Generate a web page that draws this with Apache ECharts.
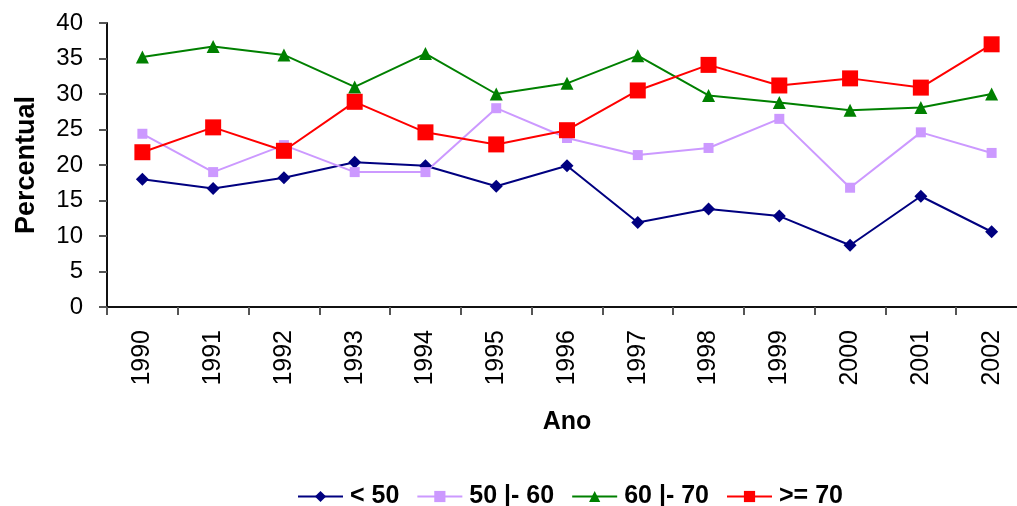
<!DOCTYPE html>
<html>
<head>
<meta charset="utf-8">
<script src="https://cdn.jsdelivr.net/npm/echarts@6/dist/echarts.min.js"></script>
<style>
html,body{margin:0;padding:0;background:#fff;overflow:hidden;width:1017px;height:506px;}
#chart{width:1032px;height:506px;}
</style>
</head>
<body>
<div id="chart"></div>
<script>
const years = ['1990','1991','1992','1993','1994','1995','1996','1997','1998','1999','2000','2001','2002'];
const seriesNames = ['< 50', '50 |- 60', '60 |- 70', '>= 70'];
const lt50 =    [18.0, 16.7, 18.2, 20.4, 19.9, 17.0, 19.9, 11.9, 13.8, 12.8, 8.7, 15.6, 10.6];
const s50_60 =  [24.4, 19.0, 22.8, 19.0, 19.0, 28.0, 23.8, 21.4, 22.4, 26.5, 16.8, 24.6, 21.7];
const s60_70 =  [35.2, 36.7, 35.5, 31.0, 35.7, 30.0, 31.5, 35.4, 29.8, 28.8, 27.7, 28.1, 30.0];
const ge70 =    [21.8, 25.3, 22.0, 28.9, 24.6, 22.9, 24.9, 30.5, 34.1, 31.2, 32.2, 30.9, 37.0];
const yTicks = [0, 5, 10, 15, 20, 25, 30, 35, 40];

const FONT = '"Liberation Sans", Arial, sans-serif';
const chart = echarts.init(document.getElementById('chart'), null, {renderer: 'canvas'});

function mk(name, data, color, symbol, size) {
  return {
    name: name, type: 'line', data: data,
    symbol: symbol, symbolSize: size,
    lineStyle: {color: color, width: 2},
    itemStyle: {color: color},
    animation: false
  };
}

chart.setOption({
  backgroundColor: '#fff',
  textStyle: {fontFamily: FONT},
  grid: {left: 107, top: 23, width: 920, height: 284, containLabel: false},
  legend: {
    left: 292, top: 479,
    itemWidth: 45, itemHeight: 14, itemGap: 17,
    textStyle: {fontFamily: FONT, fontSize: 25, fontWeight: 'bold', color: '#000', padding: [0, 0, 0, 2]},
    data: seriesNames
  },
  xAxis: {
    type: 'category', data: years, boundaryGap: true,
    name: 'Ano', nameLocation: 'middle', nameGap: 103,
    nameTextStyle: {fontFamily: FONT, fontSize: 25, fontWeight: 'bold', color: '#000'},
    axisLine: {lineStyle: {color: '#111', width: 2}},
    axisTick: {show: true, length: 8, lineStyle: {color: '#555', width: 2}},
    axisLabel: {rotate: 90, margin: 23, fontSize: 25, color: '#000', fontFamily: FONT, interval: 0},
    splitLine: {show: false}
  },
  yAxis: {
    type: 'value', min: yTicks[0], max: yTicks[yTicks.length - 1], interval: 5,
    name: 'Percentual', nameLocation: 'middle', nameGap: 67, nameRotate: 90,
    nameTextStyle: {fontFamily: FONT, fontSize: 27, fontWeight: 'bold', color: '#000'},
    axisLine: {show: true, lineStyle: {color: '#111', width: 2}},
    axisTick: {show: true, length: 8, lineStyle: {color: '#555', width: 2}},
    axisLabel: {margin: 24, fontSize: 24, color: '#000', fontFamily: FONT},
    splitLine: {show: false}
  },
  series: [
    mk(seriesNames[0], lt50, '#000080', 'diamond', 13),
    mk(seriesNames[1], s50_60, '#CC99FF', 'rect', 10),
    mk(seriesNames[2], s60_70, '#008000', 'triangle', 13),
    mk(seriesNames[3], ge70, '#FF0000', 'rect', 16)
  ]
});
</script>
</body>
</html>
